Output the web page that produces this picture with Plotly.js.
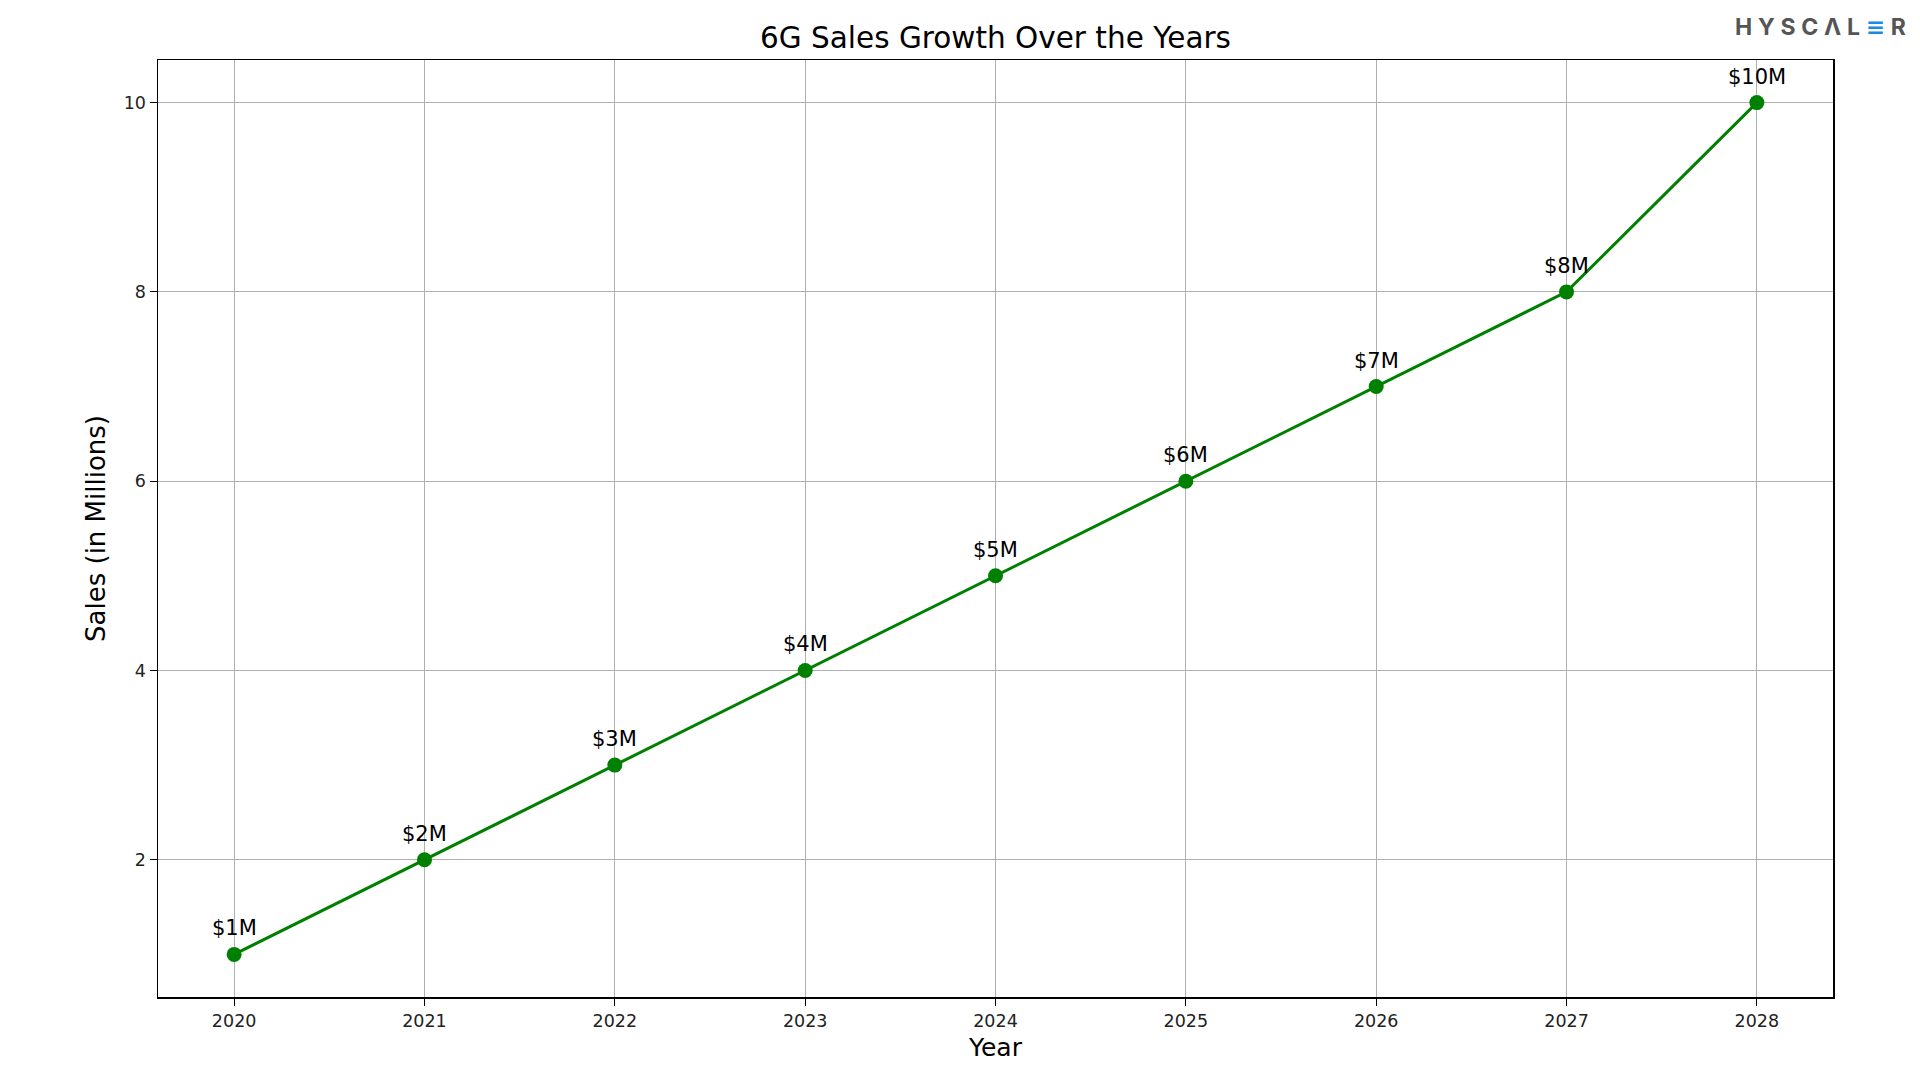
<!DOCTYPE html>
<html>
<head>
<meta charset="utf-8">
<script src="https://cdn.plot.ly/plotly-3.0.1.min.js"></script>
<style>html,body{margin:0;padding:0;background:#fff;}#chart{width:1920px;height:1080px;}</style>
</head>
<body>
<div id="chart"></div>
<script>
const years = [2020, 2021, 2022, 2023, 2024, 2025, 2026, 2027, 2028];
const sales = [1, 2, 3, 4, 5, 6, 7, 8, 10];
const salesLabels = ["$1M", "$2M", "$3M", "$4M", "$5M", "$6M", "$7M", "$8M", "$10M"];
const yTicks = [2, 4, 6, 8, 10];

const font = "DejaVu Sans, sans-serif";

const trace = {
  x: years, y: sales, type: "scatter", mode: "lines+markers",
  line: {color: "#008000", width: 3},
  marker: {color: "#008000", size: 15},
  hoverinfo: "skip"
};

const annotations = years.map((yr, i) => ({
  x: yr, y: sales[i], xref: "x", yref: "y", text: salesLabels[i],
  showarrow: false, yanchor: "middle", yshift: 26,
  font: {family: font, size: 21, color: "#000"}
}));

annotations.push({
  xref: "paper", yref: "paper", x: 1.045, y: 1.035, xanchor: "right", yanchor: "middle",
  showarrow: false,
  text: "<b>H\u2005Y\u2005S\u2005C\u2005\u039B\u2005L\u2005<span style='color:#1e88e5'>\u2261</span>\u2005R</b>",
  font: {family: "Inter, DejaVu Sans, sans-serif", size: 23, color: "#555555"}
});

const layout = {
  width: 1920, height: 1080,
  paper_bgcolor: "#fff", plot_bgcolor: "#fff",
  margin: {l: 158, r: 87, t: 60, b: 83},
  showlegend: false,
  title: {text: "6G Sales Growth Over the Years", x: 0.5, xref: "paper", xanchor: "center",
          y: 1 - 38/1080, yanchor: "middle", font: {family: font, size: 29.5, color: "#000"}},
  xaxis: {
    range: [2019.6, 2028.4], tickmode: "array", tickvals: years, ticktext: years.map(String),
    showgrid: true, gridcolor: "#b0b0b0", gridwidth: 1,
    showline: true, linecolor: "#000", linewidth: 1.5, mirror: true,
    ticks: "outside", ticklen: 7, tickcolor: "#000", tickwidth: 1.2,
    tickfont: {family: font, size: 17.5, color: "#222"},
    zeroline: false,
    title: {text: "Year", font: {family: font, size: 25, color: "#000"}, standoff: 9}
  },
  yaxis: {
    range: [0.55, 10.45], tickmode: "array", tickvals: yTicks, ticktext: yTicks.map(String),
    showgrid: true, gridcolor: "#b0b0b0", gridwidth: 1,
    showline: true, linecolor: "#000", linewidth: 1.5, mirror: true,
    ticks: "outside", ticklen: 7, tickcolor: "#000", tickwidth: 1.2,
    tickfont: {family: font, size: 17.5, color: "#222"},
    zeroline: false,
    title: {text: "Sales (in Millions)", font: {family: font, size: 26, color: "#000"}, standoff: 10}
  },
  annotations: annotations
};

Plotly.newPlot("chart", [trace], layout, {displayModeBar: false, staticPlot: true});
</script>
</body>
</html>
